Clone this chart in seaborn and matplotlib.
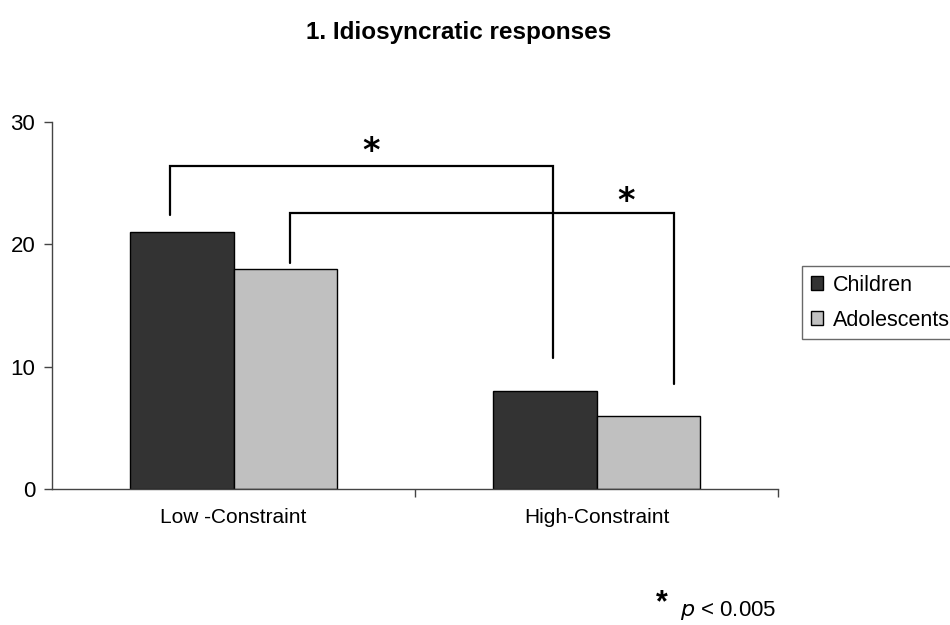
import matplotlib
matplotlib.use("Agg")
import matplotlib.pyplot as plt
import pandas as pd
import seaborn as sns

# Data
conditions = ["Low -Constraint", "High-Constraint"]
groups = ["Children", "Adolescents"]
children = [21, 8]
adolescents = [18, 6]
y_ticks = [0, 10, 20, 30]

df = pd.DataFrame({
    "condition": conditions * 2,
    "group": [groups[0]] * 2 + [groups[1]] * 2,
    "score": children + adolescents,
})

sns.set_style("white", {"text.color": "black", "xtick.color": "black",
                        "ytick.color": "black", "axes.labelcolor": "black"})
plt.rcParams["font.family"] = ["Liberation Sans", "DejaVu Sans"]

fig = plt.figure(figsize=(9.5, 6.25), dpi=100)
ax = fig.add_axes([52 / 950, 1 - 489 / 625, (778 - 52) / 950, (489 - 122) / 625])

sns.barplot(
    data=df, x="condition", y="score", hue="group",
    order=conditions, hue_order=groups,
    palette=["#333333", "#c0c0c0"], saturation=1,
    width=0.57, edgecolor="black", linewidth=1.0, ax=ax,
)

ax.set_xlim(-0.5, 1.5)
ax.set_ylim(0, 30)
ax.set_yticks(y_ticks)
ax.set_xlabel("")
ax.set_ylabel("")
for side in ("top", "right"):
    ax.spines[side].set_visible(False)
for side in ("left", "bottom"):
    ax.spines[side].set_color("#444444")
    ax.spines[side].set_linewidth(1.0)

ax.tick_params(axis="y", direction="out", length=6, width=1, color="#444444",
               labelsize=16, labelcolor="black", pad=6, left=True)
ax.tick_params(axis="x", which="major", length=0, labelsize=15,
               labelcolor="black", pad=14)
ax.set_xticks([0.5, 1.5], minor=True)
ax.tick_params(axis="x", which="minor", direction="out", length=6, width=1,
               color="#444444", bottom=True)

# Significance brackets
bracket_color = "black"
lw = 1.6
# Children: low vs high
ax.plot([-0.175, -0.175, 0.88, 0.88], [22.4, 26.4, 26.4, 10.7],
        color=bracket_color, lw=lw, clip_on=False, solid_joinstyle="miter")
ax.text(0.38, 27.6, "*", ha="center", va="center", fontsize=24,
        fontweight="bold", family="DejaVu Sans")
# Adolescents: low vs high
ax.plot([0.156, 0.156, 1.213, 1.213], [18.5, 22.55, 22.55, 8.6],
        color=bracket_color, lw=lw, clip_on=False, solid_joinstyle="miter")
ax.text(1.081, 23.5, "*", ha="center", va="center", fontsize=24,
        fontweight="bold", family="DejaVu Sans")

# Legend
handles, labels = ax.get_legend_handles_labels()
ax.legend_.remove()
leg = fig.legend(handles, labels, loc="upper left",
                 bbox_to_anchor=(802 / 950, 1 - 266 / 625),
                 frameon=True, fancybox=False, edgecolor="#444444",
                 fontsize=15.5, handlelength=0.58, handleheight=0.58,
                 handletextpad=0.45, borderpad=0.4, labelspacing=0.65,
                 borderaxespad=0)
leg.get_frame().set_linewidth(1.0)
for t in leg.get_texts():
    t.set_color("black")

# Title
fig.text(459 / 950, 1 - 33 / 625, "1. Idiosyncratic responses",
         ha="center", va="center", fontsize=17.5, fontweight="bold",
         color="black")

# Footnote
fig.text(662 / 950, 1 - 603 / 625, "*", ha="center", va="center",
         fontsize=22, fontweight="bold", color="black")
fig.text(680 / 950, 1 - 611 / 625, r"$\it{p}$ < 0.005", ha="left",
         va="center", fontsize=16, color="black")

fig.savefig("out.png", dpi=100)
